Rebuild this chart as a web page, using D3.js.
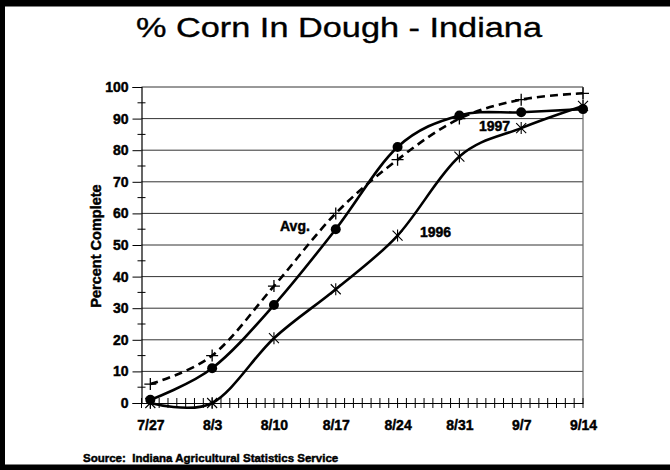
<!DOCTYPE html>
<html>
<head>
<meta charset="utf-8">
<script src="https://cdn.jsdelivr.net/npm/d3@7"></script>
<style>
  html, body { margin: 0; padding: 0; background: #fff; }
  svg { display: block; }
  text { font-family: "Liberation Sans", Arial, Helvetica, sans-serif; fill: #000; }
  .heavy { stroke: #000; stroke-width: 0.45px; }
</style>
</head>
<body>
<svg id="chart" width="670" height="470"></svg>
<script>
// ---- data ----
const weekLabels = ["7/27", "8/3", "8/10", "8/17", "8/24", "8/31", "9/7", "9/14"];
const weekDays = [0, 7, 14, 21, 28, 35, 42, 49]; // days after 7/27
const avgValues = [6, 15, 37, 60, 77, 90, 96, 98];
const y1997Values = [1, 11, 31, 55, 81, 91, 92, 93];
const y1996Values = [0, 0, 20.5, 36, 53, 78, 87, 94];
const yTicks = [0, 10, 20, 30, 40, 50, 60, 70, 80, 90, 100];

const svg = d3.select("#chart");

// frame
svg.append("rect").attr("x", 0).attr("y", 0).attr("width", 670).attr("height", 470).attr("fill", "#fff");
svg.append("rect").attr("x", 0).attr("y", 0).attr("width", 670).attr("height", 6.5).attr("fill", "#000");
svg.append("rect").attr("x", 0).attr("y", 0).attr("width", 5).attr("height", 470).attr("fill", "#000");
svg.append("rect").attr("x", 0).attr("y", 464.5).attr("width", 670).attr("height", 6).attr("fill", "#000");

const x = d3.scaleLinear().domain([-1, 49]).range([141.5, 583]);
const y = d3.scaleLinear().domain([0, 100]).range([403, 87]);

// gridlines
svg.append("g").selectAll("line").data(yTicks.filter(d => d > 0)).join("line")
  .attr("x1", x(-1)).attr("x2", x(49))
  .attr("y1", d => y(d)).attr("y2", d => y(d))
  .attr("stroke", "#333").attr("stroke-width", 1);

// right border
svg.append("line").attr("x1", x(49)).attr("x2", x(49)).attr("y1", y(100)).attr("y2", y(0))
  .attr("stroke", "#666").attr("stroke-width", 1.2);

// y axis
const yAxis = d3.axisLeft(y).tickValues(yTicks).tickSize(9).tickPadding(4);
const gy = svg.append("g").attr("transform", `translate(${x(-1)},0)`).call(yAxis);
gy.select(".domain").attr("stroke", "#000").attr("stroke-width", 1.2);
gy.selectAll(".tick line").attr("stroke", "#000");
gy.selectAll(".tick text").attr("font-size", 14).attr("font-weight", "bold").attr("class", "heavy")
  .style("font-family", '"Liberation Sans", Arial, sans-serif');
// minor y ticks
const minorY = d3.range(5, 100, 10);
svg.append("g").selectAll("line").data(minorY).join("line")
  .attr("x1", x(-1) - 4).attr("x2", x(-1) + 4)
  .attr("y1", d => y(d)).attr("y2", d => y(d))
  .attr("stroke", "#000").attr("stroke-width", 1);

// x axis
const xAxis = d3.axisBottom(x).tickValues(weekDays).tickFormat((d, i) => weekLabels[i]).tickSize(0).tickPadding(17);
const gx = svg.append("g").attr("transform", `translate(0,${y(0)})`).call(xAxis);
gx.select(".domain").attr("stroke", "#000").attr("stroke-width", 1.2);
gx.selectAll(".tick text").attr("font-size", 14).attr("font-weight", "bold").attr("class", "heavy")
  .style("font-family", '"Liberation Sans", Arial, sans-serif');
// daily ticks
svg.append("g").selectAll("line").data(d3.range(-1, 50)).join("line")
  .attr("x1", d => x(d)).attr("x2", d => x(d))
  .attr("y1", y(0) - 5).attr("y2", y(0) + 5)
  .attr("stroke", "#000").attr("stroke-width", 1);

// lines
const line = d3.line().x(d => x(d[0])).y(d => y(d[1])).curve(d3.curveCardinal.tension(0));
const series = [
  { vals: y1996Values, dash: null, marker: "star" },
  { vals: avgValues, dash: "8,5", marker: "plus" },
  { vals: y1997Values, dash: null, marker: "dot" }
];
series.forEach(s => {
  const pts = weekDays.map((d, i) => [d, s.vals[i]]);
  svg.append("path").attr("d", line(pts)).attr("fill", "none")
    .attr("stroke", "#000").attr("stroke-width", 2.6)
    .attr("stroke-dasharray", s.dash);
  const g = svg.append("g");
  pts.forEach(p => {
    const cx = x(p[0]), cy = y(p[1]);
    if (s.marker === "dot") {
      g.append("circle").attr("cx", cx).attr("cy", cy).attr("r", 5).attr("fill", "#000");
    } else if (s.marker === "plus") {
      g.append("path").attr("d", `M${cx - 6},${cy}H${cx + 6}M${cx},${cy - 6}V${cy + 6}`)
        .attr("stroke", "#000").attr("stroke-width", 1.3);
    } else {
      g.append("path").attr("d",
        `M${cx - 5},${cy - 5}L${cx + 5},${cy + 5}M${cx - 5},${cy + 5}L${cx + 5},${cy - 5}M${cx},${cy - 6}V${cy + 6}`)
        .attr("stroke", "#000").attr("stroke-width", 1.1);
    }
  });
});

// series labels
const lab = (t, xx, yy) => svg.append("text").attr("x", xx).attr("y", yy).attr("class", "heavy")
  .attr("font-size", 14).attr("font-weight", "bold").text(t);
lab("Avg.", 280, 231);
lab("1996", 420, 237);
lab("1997", 479, 131);

// title
svg.append("text").attr("x", 339).attr("y", 37).attr("text-anchor", "middle")
  .attr("font-size", 28).attr("textLength", 406).attr("lengthAdjust", "spacingAndGlyphs")
  .attr("stroke", "#000").attr("stroke-width", 0.35)
  .text("% Corn In Dough - Indiana");

// y axis title
svg.append("text").attr("transform", "translate(101,246) rotate(-90)").attr("class", "heavy")
  .attr("text-anchor", "middle").attr("font-size", 14.5).attr("font-weight", "bold")
  .text("Percent Complete");

// source
svg.append("text").attr("x", 83).attr("y", 462).attr("font-size", 11.5).attr("font-weight", "bold")
  .attr("class", "heavy").style("white-space", "pre").text("Source:  Indiana Agricultural Statistics Service");
</script>
</body>
</html>
